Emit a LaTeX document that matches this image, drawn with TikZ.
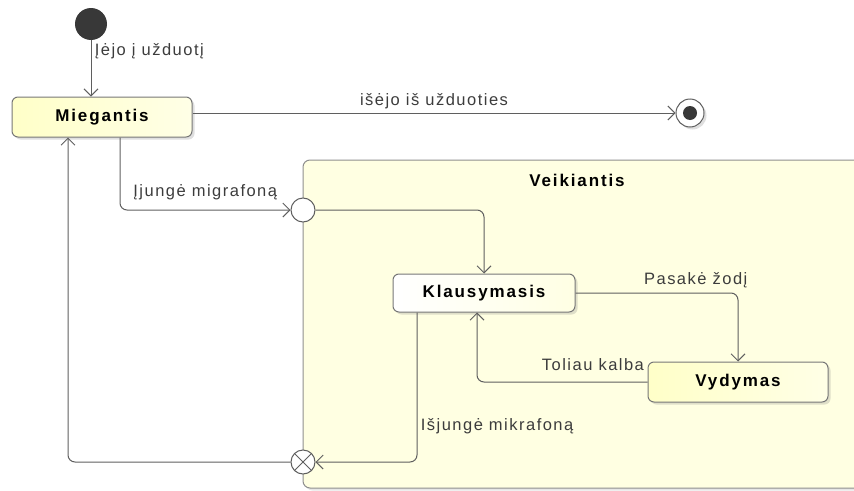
\documentclass[tikz,border=0pt]{standalone}
\usepackage{fontspec}
\setmainfont{Liberation Sans}
\newfontfamily\lblfont[LetterSpace=9]{Liberation Sans}
\newfontfamily\namefont[LetterSpace=11]{Liberation Sans}
\usetikzlibrary{arrows.meta, shadows}
\definecolor{stfill}{RGB}{255,255,200}
\definecolor{compfill}{RGB}{255,255,226}
\definecolor{linegray}{RGB}{95,95,95}
\definecolor{txtgray}{RGB}{60,60,60}

\begin{document}
\begin{tikzpicture}[x=1pt, y=-1pt, font=\lblfont\fontsize{16.5}{19}\selectfont,
    state/.style={draw=linegray!85, line width=1pt, rounded corners=6pt, left color=stfill, right color=stfill!45!white,
        minimum width=180pt, minimum height=40pt, font=\namefont\bfseries\fontsize{17}{20}\selectfont,
        drop shadow={opacity=0.25, shadow xshift=2.5pt, shadow yshift=-2.5pt}},
    trans/.style={draw=linegray, line width=1pt, -{Straight Barb[length=7pt,width=14pt]}, rounded corners=7pt},
    lbl/.style={text=txtgray},
    pseudo/.style={circle, draw=linegray, line width=1pt, fill=white, minimum size=24pt, inner sep=0pt}]
    \useasboundingbox (0,0) rectangle (854,490);
    \clip (0,0) rectangle (854,490);

    % composite state
    \draw[draw=linegray!70, line width=1pt, fill=compfill, rounded corners=7pt,
        drop shadow={opacity=0.2, shadow xshift=2.5pt, shadow yshift=-2.5pt}] (303,160) rectangle (880,488);
    \node[font=\namefont\bfseries\fontsize{17}{20}\selectfont] (title) at (577,180) {Veikiantis};

    % states
    \node[circle, fill=black!78, minimum size=32pt, inner sep=0pt] (start) at (91,24) {};
    \node[state] (sleep) at (102,117) {Miegantis};
    \node[circle, draw=linegray, line width=1pt, fill=white, minimum size=28pt, inner sep=0pt,
        drop shadow={opacity=0.25, shadow xshift=2.5pt, shadow yshift=-2.5pt},
        path picture={\fill[black!78] (path picture bounding box.center) circle (7pt);}] (end) at (690,113) {};
    \node[pseudo] (entry) at (303,210) {};
    \node[pseudo] (exit) at (303,462) {};
    \draw[linegray, line width=1pt] (exit.45) -- (exit.225) (exit.135) -- (exit.315);
    \node[state, left color=white, right color=stfill!50!white, minimum width=182pt, minimum height=38pt] (klaus) at (484,293) {Klausymasis};
    \node[state] (vyd) at (738,382) {Vydymas};

    % transitions
    \draw[trans] (start) -- node[pos=0.2, right, lbl]{Įėjo į užduotį} (start |- sleep.north);
    \draw[trans] (sleep.east |- end.west) -- node[above=0pt, lbl]{išėjo iš užduoties} (end.west);
    \draw[trans] ([xshift=18pt]sleep.south) |- node[pos=0.75, above=6pt, lbl]{Įjungė migrafoną} (entry);
    \draw[trans] (entry) -| (klaus);
    \draw[trans] (klaus) -| node[pos=0.37, above=1pt, lbl]{Pasakė žodį} (vyd);
    \draw[trans] (vyd) -| node[pos=0.16, above=8pt, lbl]{Toliau kalba} ([xshift=-7pt]klaus.south);
    \draw[trans] ([xshift=-67pt]klaus.south) |- node[pos=0.38, right, lbl]{Išjungė mikrafoną} (exit);
    \draw[trans] (exit) -| ([xshift=-34pt]sleep.south);
\end{tikzpicture}
\end{document}
